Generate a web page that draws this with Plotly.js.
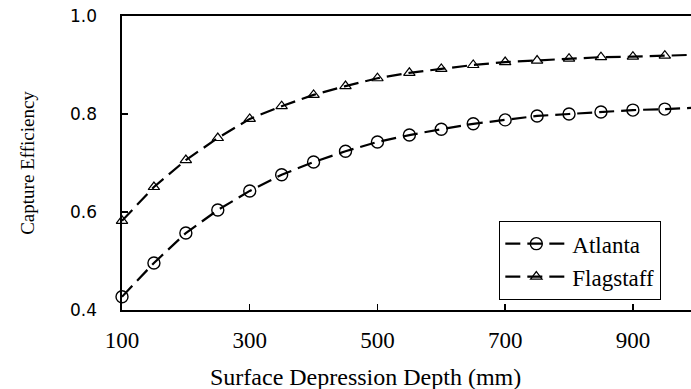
<!DOCTYPE html>
<html>
<head>
<meta charset="utf-8">
<script src="https://cdn.plot.ly/plotly-3.0.1.min.js"></script>
<style>html,body{margin:0;padding:0;background:#fff;}#chart{width:691px;height:389px;}</style>
</head>
<body>
<div id="chart"></div>
<script>
const depth = [100,150,200,250,300,350,400,450,500,550,600,650,700,750,800,850,900,950,1000];
const atlanta = [0.427,0.496,0.557,0.604,0.643,0.676,0.702,0.724,0.743,0.757,0.769,0.780,0.788,0.796,0.800,0.804,0.808,0.810,0.813];
const flagstaff = [0.582,0.651,0.706,0.751,0.790,0.816,0.839,0.857,0.873,0.884,0.892,0.900,0.906,0.909,0.913,0.916,0.917,0.919,0.921];
const xTicks = [100,300,500,700,900];
const yTicks = [0.4,0.6,0.8,1.0];
const seriesNames = ['Atlanta', 'Flagstaff'];
const xTitle = 'Surface Depression Depth (mm)';
const yTitle = 'Capture Efficiency';

const serif = '"Liberation Serif", "Times New Roman", serif';
const sans = '"DejaVu Sans", sans-serif';

const traces = [
  {x: depth, y: atlanta, name: seriesNames[0], type: 'scatter', mode: 'lines+markers', cliponaxis: false,
   line: {color: '#000', width: 2.2, dash: '15px,7px'},
   marker: {symbol: 'circle-open', size: 12, color: '#000', line: {width: 1.4, color: '#000'}}},
  {x: depth, y: flagstaff, name: seriesNames[1], type: 'scatter', mode: 'lines+markers', cliponaxis: false,
   line: {color: '#000', width: 2.2, dash: '15px,7px'},
   marker: {symbol: 'triangle-up-open', size: 10, color: '#000', line: {width: 1.2, color: '#000'}}}
];

const layout = {
  width: 691, height: 389,
  margin: {l: 122, r: 0, t: 16, b: 79},
  paper_bgcolor: '#fff', plot_bgcolor: '#fff',
  showlegend: true,
  legend: {x: 0.6626, y: 0.303, xanchor: 'left', yanchor: 'top',
           bordercolor: '#000', borderwidth: 1.3, bgcolor: '#fff', itemwidth: 62,
           entrywidth: 96, entrywidthmode: 'pixels',
           font: {family: serif, size: 23, color: '#000'}, tracegroupgap: 0},
  xaxis: {range: [100, 991], tickvals: xTicks, ticktext: xTicks.map(String),
          ticks: 'inside', ticklen: 6, tickcolor: '#000', tickwidth: 1.5,
          showline: true, linecolor: '#000', linewidth: 1.6, mirror: true,
          showgrid: false, zeroline: false, ticklabelstandoff: 9,
          tickfont: {family: serif, size: 23, color: '#000'}},
  yaxis: {range: [0.4, 1.0], tickvals: yTicks, ticktext: yTicks.map(v => v.toFixed(1)),
          ticks: 'inside', ticklen: 6, tickcolor: '#000', tickwidth: 1.5,
          showline: true, linecolor: '#000', linewidth: 1.6, mirror: false,
          showgrid: false, zeroline: false, ticklabelstandoff: 20,
          tickfont: {family: sans, size: 17, color: '#000'},
          title: {text: yTitle, font: {family: serif, size: 19, color: '#000'}, standoff: 30}},
  annotations: [
    {text: xTitle, xref: 'paper', yref: 'paper', x: 0.4288, y: -0.228, xanchor: 'center', yanchor: 'middle',
     showarrow: false, font: {family: serif, size: 24, color: '#000'}}
  ]
};

Plotly.newPlot('chart', traces, layout, {staticPlot: true, displayModeBar: false});
</script>
</body>
</html>
